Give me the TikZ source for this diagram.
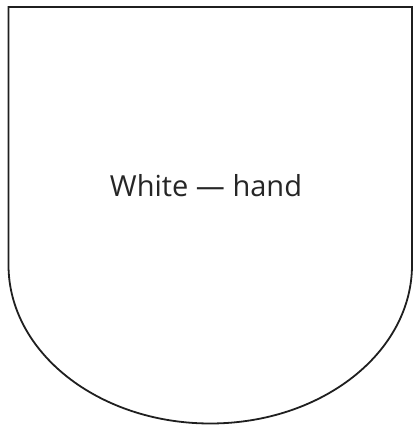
\documentclass[tikz,border=0pt]{standalone}
\usepackage{fontspec}
\setmainfont{Open Sans}
\begin{document}
\begin{tikzpicture}[x=1pt,y=1pt,
  outline/.style={draw=black!88, line width=1.8pt, line join=miter}]
\useasboundingbox (0,0) rectangle (414,-427);
\draw[outline] (412,-265) -- (412,-7) -- (8.5,-7) -- (8.5,-265)
  arc[start angle=180, end angle=360, x radius=201.75, y radius=158.5];
\node[font=\fontsize{29}{34}\selectfont, text=black!85] (label) at (206,-186) {White — hand};
\end{tikzpicture}
\end{document}
